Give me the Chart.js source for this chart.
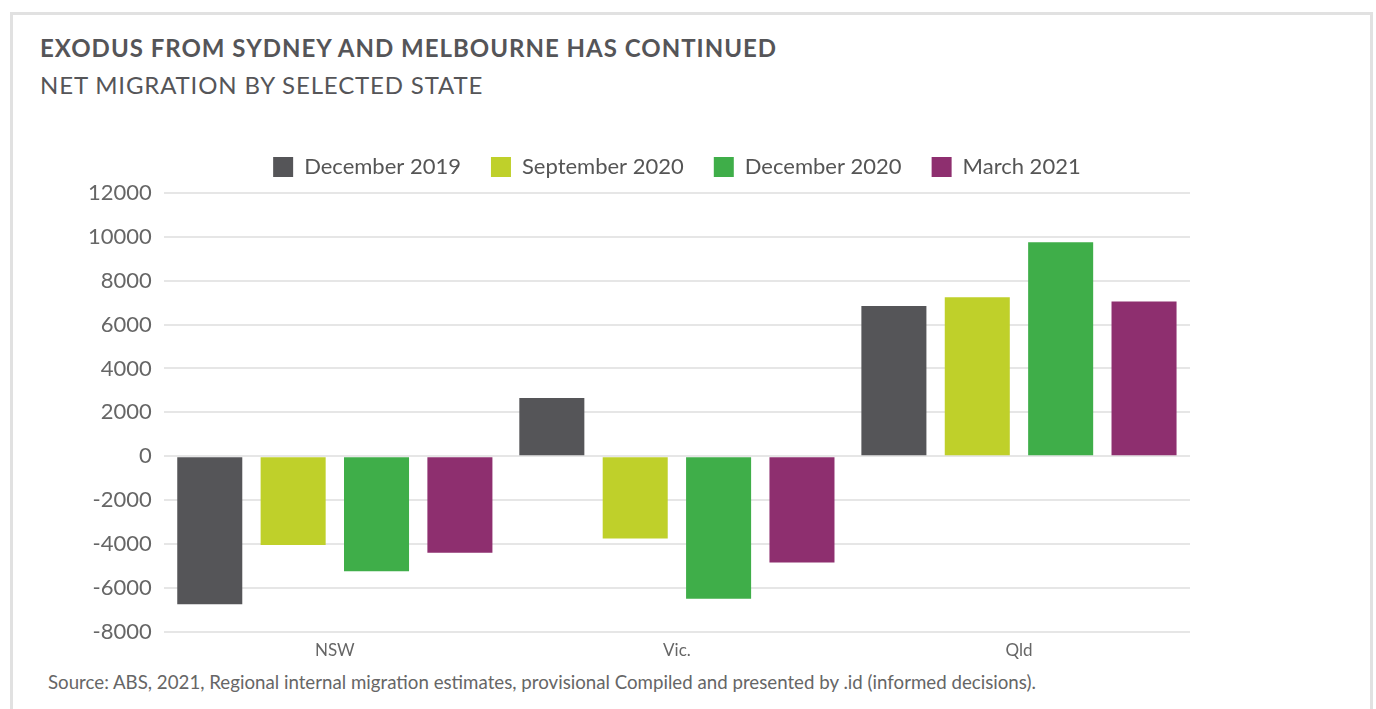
<!DOCTYPE html>
<html>
<head>
<meta charset="utf-8">
<script src="https://cdn.jsdelivr.net/npm/chart.js@4"></script>
<style>
    html, body { margin: 0; padding: 0; background: #fff; }
    body { width: 1376px; height: 709px; position: relative; overflow: hidden; font-family: Lato, "Open Sans", sans-serif; }
    .frame { position: absolute; left: 10px; top: 12px; width: 1357px; height: 720px; border: 3px solid #e1e1e1; border-bottom: none; }
    .title { position: absolute; left: 40px; top: 33px; font-size: 24px; font-weight: 700; color: #555558; letter-spacing: 1px; }
    .subtitle { position: absolute; left: 40px; top: 70px; font-size: 24px; color: #555558; letter-spacing: 0.85px; }
    .source { position: absolute; left: 48px; top: 671px; font-size: 18.7px; color: #666; }
    .chart-box { position: absolute; left: 76px; top: 126px; width: 1116px; height: 536px; }
</style>
</head>
<body>
<div class="frame"></div>
<div class="title">EXODUS FROM SYDNEY AND MELBOURNE HAS CONTINUED</div>
<div class="subtitle">NET MIGRATION BY SELECTED STATE</div>
<div class="chart-box"><canvas id="chart"></canvas></div>
<div class="source">Source: ABS, 2021, Regional internal migration estimates, provisional Compiled and presented by .id (informed decisions).</div>
<script>
// 州
const states = ["NSW", "Vic.", "Qld"];
// 各时期净迁移
const dec2019 = [-6750, 2650, 6850];
const sep2020 = [-4050, -3750, 7250];
const dec2020 = [-5250, -6500, 9750];
const mar2021 = [-4400, -4850, 7050];
const yTicks = [-8000, -6000, -4000, -2000, 0, 2000, 4000, 6000, 8000, 10000, 12000];

const FONT = 'Lato, "Open Sans", sans-serif';

const makeSet = (label, data, color) => ({
    label: label,
    data: data,
    backgroundColor: color,
    borderWidth: 0,
    barPercentage: 0.78,
    categoryPercentage: 0.975
});

// 图例：调整与图表的间距，并以绘图区为中心
const legendTweak = {
    id: 'legendTweak',
    beforeInit(chart) {
        const fit = chart.legend.fit;
        chart.legend.fit = function () {
            fit.bind(chart.legend)();
            this.height += 5;
        };
    },
    afterLayout(chart) {
        const lg = chart.legend;
        const area = chart.chartArea;
        const dx = (area.left + area.right) / 2 - (lg.left + lg.right) / 2;
        lg.left += dx;
        lg.right += dx;
    }
};

const ctx = document.getElementById('chart').getContext('2d');
new Chart(ctx, {
    type: 'bar',
    data: {
        labels: states,
        datasets: [
            makeSet("December 2019", dec2019, "#555558"),
            makeSet("September 2020", sep2020, "#bfd02a"),
            makeSet("December 2020", dec2020, "#3fae49"),
            makeSet("March 2021", mar2021, "#8e2f6f")
        ]
    },
    options: {
        responsive: true,
        maintainAspectRatio: false,
        animation: false,
        layout: { padding: { left: 0, right: 2, top: 0, bottom: 0 } },
        plugins: {
            legend: {
                display: true,
                labels: {
                    boxWidth: 20,
                    boxHeight: 20,
                    padding: 30,
                    color: '#555',
                    font: { family: FONT, size: 22 }
                }
            },
            tooltip: { enabled: false }
        },
        scales: {
            x: {
                grid: { display: false },
                border: { display: false },
                ticks: { color: '#666', font: { family: FONT, size: 17 }, padding: 1 }
            },
            y: {
                min: yTicks[0],
                max: yTicks[yTicks.length - 1],
                afterBuildTicks: axis => { axis.ticks = yTicks.map(v => ({ value: v })); },
                grid: { color: '#e6e6e6', lineWidth: 2, drawTicks: false },
                border: { display: false },
                ticks: {
                    color: '#666',
                    font: { family: FONT, size: 22 },
                    padding: 12,
                    callback: v => String(v)
                }
            }
        }
    },
    plugins: [legendTweak]
});
</script>
</body>
</html>
